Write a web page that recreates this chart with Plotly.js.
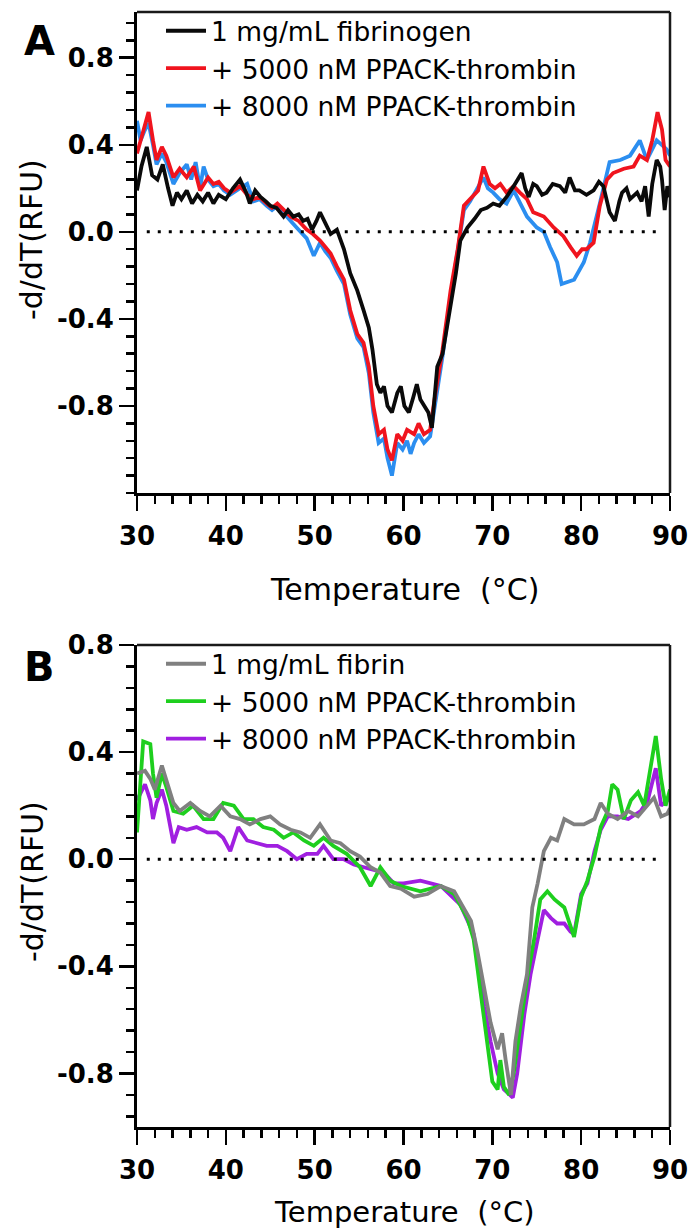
<!DOCTYPE html>
<html>
<head>
<meta charset="utf-8">
<script src="https://cdn.plot.ly/plotly-3.0.1.min.js"></script>
<style>html,body{margin:0;padding:0;background:#fff;}#chart{width:692px;height:1232px;}</style>
</head>
<body>
<div id="chart"></div>
<script>
// ---------- Panel A: fibrinogen ----------
const tempA_fib = [30.0,30.5,31.1,31.7,32.3,32.9,33.5,34.0,34.5,35.0,35.6,36.2,36.8,37.4,38.0,38.6,39.2,40.0,40.8,41.6,42.3,42.7,43.3,43.9,44.5,45.0,45.7,46.5,47.0,47.6,48.2,48.7,49.2,49.7,50.2,50.6,51.2,51.8,52.5,53.3,54.0,54.8,55.5,56.1,56.5,57.0,57.4,57.8,58.2,58.7,59.3,59.7,60.1,60.6,61.1,61.5,61.9,62.3,62.8,63.2,63.5,63.8,64.4,64.9,65.3,65.9,66.4,67.2,68.0,68.7,69.4,70.1,70.8,71.6,72.4,73.3,73.7,74.1,74.6,75.0,75.6,76.1,76.8,77.6,78.2,78.7,79.3,79.8,80.6,81.4,82.0,82.5,83.2,83.8,84.3,84.6,85.1,85.5,86.3,86.8,87.2,87.6,88.0,88.5,88.9,89.1,89.4,89.7,90.0];
const valA_fib = [0.19,0.30,0.39,0.26,0.24,0.31,0.20,0.12,0.18,0.15,0.19,0.13,0.17,0.14,0.18,0.13,0.17,0.15,0.20,0.24,0.18,0.13,0.19,0.16,0.14,0.12,0.11,0.07,0.10,0.07,0.08,0.05,0.06,0.01,0.05,0.09,0.04,-0.01,0.01,-0.08,-0.19,-0.27,-0.36,-0.44,-0.54,-0.70,-0.74,-0.71,-0.80,-0.83,-0.74,-0.71,-0.80,-0.83,-0.76,-0.70,-0.77,-0.80,-0.83,-0.90,-0.77,-0.62,-0.56,-0.44,-0.34,-0.19,-0.04,0.02,0.06,0.10,0.11,0.13,0.12,0.16,0.21,0.27,0.20,0.16,0.22,0.21,0.17,0.18,0.22,0.21,0.18,0.25,0.19,0.19,0.17,0.19,0.23,0.21,0.09,0.05,0.14,0.18,0.20,0.15,0.18,0.14,0.21,0.07,0.22,0.33,0.30,0.24,0.10,0.21,0.16];

const tempA_5000 = [30.0,30.6,31.3,31.8,32.2,32.8,33.3,34.1,34.8,35.6,36.4,37.1,38.0,38.6,39.2,39.8,40.5,41.6,42.4,43.1,43.8,44.6,45.2,45.8,46.5,47.3,48.2,49.1,49.8,50.6,51.2,51.8,52.5,53.3,54.0,54.8,55.5,56.1,56.6,57.2,57.8,58.2,58.7,59.3,59.9,60.4,61.2,61.7,62.3,63.0,63.6,64.4,65.3,66.1,66.8,67.5,68.4,69.0,69.7,70.3,70.9,71.6,72.4,73.1,73.9,74.6,75.8,76.9,78.0,78.8,79.5,80.1,80.6,81.4,82.1,82.9,83.6,84.8,85.9,86.6,87.4,88.0,88.6,89.1,89.5,90.0];
const valA_5000 = [0.36,0.45,0.55,0.42,0.33,0.39,0.35,0.25,0.29,0.25,0.30,0.19,0.25,0.22,0.23,0.20,0.18,0.21,0.17,0.15,0.16,0.13,0.11,0.13,0.10,0.07,0.05,0.01,-0.01,-0.04,-0.07,-0.10,-0.16,-0.22,-0.36,-0.47,-0.51,-0.62,-0.80,-0.93,-0.91,-1.00,-1.05,-0.93,-0.96,-0.91,-0.93,-0.88,-0.93,-0.91,-0.74,-0.54,-0.27,-0.08,0.12,0.15,0.19,0.30,0.22,0.20,0.22,0.18,0.21,0.18,0.15,0.09,0.07,0.02,-0.02,-0.07,-0.11,-0.08,-0.08,-0.05,0.12,0.24,0.27,0.29,0.30,0.35,0.33,0.42,0.55,0.47,0.33,0.30];

const tempA_8000 = [30.0,30.4,30.8,31.3,31.8,32.2,32.8,33.3,34.1,34.8,35.6,36.1,36.6,37.1,37.5,38.0,38.6,39.2,39.8,40.5,41.6,42.4,43.1,43.8,44.6,45.2,45.8,46.5,47.3,48.4,49.1,49.9,50.6,51.2,51.8,52.5,53.3,54.0,54.8,55.5,56.1,56.6,57.2,57.8,58.2,58.7,59.3,59.9,60.4,60.8,61.2,61.7,62.3,63.0,63.6,64.4,65.3,66.1,66.8,67.5,68.4,69.0,69.5,70.1,70.8,71.6,72.4,73.1,73.9,75.0,75.8,76.5,77.3,77.8,78.5,79.2,80.3,81.0,82.1,83.2,84.4,85.5,86.6,87.4,88.5,89.6,90.0];
const valA_8000 = [0.51,0.42,0.46,0.50,0.40,0.31,0.36,0.32,0.22,0.27,0.31,0.24,0.32,0.20,0.30,0.24,0.21,0.22,0.19,0.17,0.20,0.22,0.14,0.15,0.12,0.10,0.12,0.09,0.05,0.00,-0.03,-0.11,-0.05,-0.09,-0.12,-0.18,-0.24,-0.38,-0.49,-0.53,-0.65,-0.83,-0.97,-0.95,-1.04,-1.12,-0.97,-1.00,-0.96,-1.02,-0.97,-0.93,-0.97,-0.94,-0.78,-0.57,-0.30,-0.09,0.10,0.14,0.21,0.25,0.20,0.18,0.15,0.13,0.19,0.13,0.07,0.02,0.00,-0.07,-0.14,-0.24,-0.23,-0.22,-0.14,-0.05,0.13,0.32,0.33,0.35,0.42,0.33,0.42,0.38,0.35];

// ---------- Panel B: fibrin ----------
const tempB_fib = [30.0,30.9,31.5,32.0,32.8,33.3,34.1,34.8,36.0,37.1,38.2,39.4,40.5,41.6,42.7,43.9,45.0,46.1,47.3,48.4,49.5,50.6,51.8,52.9,54.0,55.1,56.3,57.4,58.5,59.7,61.2,62.7,64.2,65.7,66.8,67.6,68.3,69.1,69.8,70.6,71.1,71.5,72.1,72.6,73.2,73.9,74.5,75.1,75.8,76.6,77.3,78.1,79.2,80.3,81.5,82.2,83.0,84.1,85.3,86.4,87.5,88.2,89.0,89.7,90.0];
const valB_fib = [0.32,0.33,0.30,0.26,0.35,0.30,0.21,0.18,0.21,0.18,0.16,0.20,0.16,0.15,0.13,0.15,0.16,0.13,0.11,0.10,0.08,0.13,0.07,0.06,0.03,0.01,-0.03,-0.05,-0.10,-0.11,-0.14,-0.13,-0.10,-0.12,-0.18,-0.23,-0.34,-0.48,-0.61,-0.71,-0.65,-0.75,-0.88,-0.68,-0.55,-0.43,-0.18,-0.09,0.03,0.08,0.07,0.15,0.13,0.13,0.15,0.21,0.17,0.15,0.18,0.16,0.20,0.23,0.16,0.17,0.19];

const tempB_5000 = [30.0,30.4,30.7,31.5,31.8,32.2,32.8,33.3,34.1,35.2,36.3,37.5,38.6,39.7,40.9,42.0,43.1,44.2,45.4,46.5,47.6,48.8,49.9,51.0,52.1,53.6,55.1,56.3,57.4,58.5,59.7,61.9,64.2,65.7,67.2,67.9,68.7,69.4,70.0,70.6,70.9,71.3,71.9,72.4,73.2,73.9,74.7,75.4,76.2,77.0,78.1,78.8,79.2,80.0,80.7,81.5,82.2,83.0,83.5,84.1,84.8,85.6,86.4,87.1,87.9,88.4,89.0,89.5,90.0];
const valB_5000 = [0.10,0.32,0.44,0.43,0.32,0.23,0.32,0.27,0.18,0.17,0.20,0.15,0.15,0.21,0.20,0.15,0.15,0.12,0.11,0.08,0.10,0.07,0.05,0.08,0.05,0.02,-0.03,-0.10,-0.03,-0.08,-0.10,-0.12,-0.10,-0.13,-0.22,-0.30,-0.50,-0.68,-0.83,-0.86,-0.75,-0.85,-0.88,-0.80,-0.61,-0.45,-0.30,-0.15,-0.12,-0.15,-0.18,-0.25,-0.29,-0.14,-0.08,0.01,0.12,0.18,0.28,0.26,0.15,0.22,0.25,0.20,0.37,0.46,0.30,0.20,0.26];

const tempB_8000 = [30.0,30.9,31.5,31.8,32.2,32.8,33.3,34.1,34.7,35.6,36.7,37.9,39.0,39.7,40.5,41.4,42.4,43.5,44.6,45.8,46.9,48.0,49.1,50.3,51.0,52.1,53.3,54.4,55.5,56.7,57.8,58.9,60.0,61.9,64.2,66.4,67.9,69.1,69.8,70.6,71.3,72.3,72.8,73.6,74.3,75.1,75.8,76.6,77.3,78.1,78.8,79.2,80.0,80.7,81.5,82.2,83.0,84.1,85.3,86.7,87.5,88.4,89.0,89.7,90.0];
const valB_8000 = [0.22,0.28,0.22,0.15,0.21,0.26,0.20,0.06,0.12,0.11,0.12,0.10,0.10,0.08,0.03,0.12,0.07,0.06,0.05,0.05,0.03,0.00,0.02,0.02,0.05,0.00,0.00,-0.02,-0.03,-0.04,-0.05,-0.09,-0.09,-0.08,-0.10,-0.17,-0.28,-0.55,-0.68,-0.80,-0.86,-0.89,-0.80,-0.58,-0.43,-0.30,-0.19,-0.22,-0.24,-0.24,-0.27,-0.28,-0.13,-0.09,0.03,0.11,0.16,0.16,0.15,0.18,0.22,0.34,0.20,0.22,0.24];

// ---------- labels / ticks ----------
const namesA = ['1 mg/mL fibrinogen', '+ 5000 nM PPACK-thrombin', '+ 8000 nM PPACK-thrombin'];
const namesB = ['1 mg/mL fibrin', '+ 5000 nM PPACK-thrombin', '+ 8000 nM PPACK-thrombin'];
const yTickVals = [-0.8, -0.4, 0, 0.4, 0.8];
const yTickText = ['-0.8', '-0.4', '0.0', '0.4', '0.8'];
const xTitle = 'Temperature\u00a0 (°C)';
const yTitle = '-d/dT(RFU)';
const panelLabels = ['A', 'B'];

const colorsA = ['#0a0a0a', '#f0141e', '#2b8ef0'];
const colorsB = ['#808080', '#1ecf1e', '#a01fe0'];

const W = 692, H = 1232;
const FONT = 'DejaVu Sans, Liberation Sans, Arial, sans-serif';
const LW = 3.8;

function tr(x, y, name, color, xa, ya, leg) {
  return {x: x, y: y, name: name, type: 'scatter', mode: 'lines',
    line: {color: color, width: LW}, xaxis: xa, yaxis: ya, legend: leg, hoverinfo: 'skip'};
}

// drawn bottom-to-top: 8000, 5000, control (legend reversed)
const data = [
  tr(tempA_8000, valA_8000, namesA[2], colorsA[2], 'x', 'y', 'legend'),
  tr(tempA_5000, valA_5000, namesA[1], colorsA[1], 'x', 'y', 'legend'),
  tr(tempA_fib, valA_fib, namesA[0], colorsA[0], 'x', 'y', 'legend'),
  tr(tempB_8000, valB_8000, namesB[2], colorsB[2], 'x2', 'y2', 'legend2'),
  tr(tempB_5000, valB_5000, namesB[1], colorsB[1], 'x2', 'y2', 'legend2'),
  tr(tempB_fib, valB_fib, namesB[0], colorsB[0], 'x2', 'y2', 'legend2')
];

const XDOM = [137 / W, 670 / W];
function xAxis(anchor) {
  return {domain: XDOM, range: [30, 90], anchor: anchor,
    tickmode: 'linear', tick0: 30, dtick: 10,
    ticks: 'outside', ticklen: 15, tickwidth: 2.5, tickcolor: '#000',
    showline: true, linewidth: 3, linecolor: '#000', showgrid: false, zeroline: false,
    tickfont: {family: FONT, size: 26, weight: 'bold', color: '#000'},
    ticklabelstandoff: 3,
    minor: {dtick: 2, ticks: 'outside', ticklen: 8, tickwidth: 2.5, tickcolor: '#000', showgrid: false},
    fixedrange: true};
}
function yAxis(anchor, dom, rng) {
  return {domain: dom, range: rng, anchor: anchor,
    tickmode: 'array', tickvals: yTickVals, ticktext: yTickText,
    ticks: 'outside', ticklen: 15, tickwidth: 2.5, tickcolor: '#000',
    showline: true, linewidth: 3, linecolor: '#000', showgrid: false, zeroline: false,
    tickfont: {family: FONT, size: 26, weight: 'bold', color: '#000'},
    minor: {tickmode: 'linear', tick0: 0, dtick: 0.08, ticks: 'outside', ticklen: 8, tickwidth: 2.5, tickcolor: '#000', showgrid: false},
    fixedrange: true};
}

function frame(xa, ya) {
  return [
    {type: 'line', xref: xa + ' domain', yref: ya + ' domain', x0: 0, x1: 1, y0: 1, y1: 1, line: {color: '#1a1a1a', width: 2.5}},
    {type: 'line', xref: xa + ' domain', yref: ya + ' domain', x0: 1, x1: 1, y0: 0, y1: 1, line: {color: '#1a1a1a', width: 2.5}},
    {type: 'line', xref: xa, yref: ya, x0: 31.1, x1: 89.1, y0: 0, y1: 0, line: {color: '#000', width: 3, dash: '3px,8px'}}
  ];
}

function ann(text, xpx, ypx, size, extra) {
  return Object.assign({text: text, xref: 'paper', yref: 'paper', x: xpx / W, y: 1 - ypx / H,
    xanchor: 'center', yanchor: 'middle', showarrow: false,
    font: {family: FONT, size: size, color: '#000'}}, extra || {});
}

function legendAt(leftPx, topPx) {
  return {x: leftPx / W, xanchor: 'left', y: 1 - topPx / H, yanchor: 'top',
    bgcolor: 'rgba(0,0,0,0)', borderwidth: 0, itemwidth: 40,
    font: {family: FONT, size: 26.5, color: '#000'}, traceorder: 'reversed'};
}

const layout = {
  width: W, height: H,
  margin: {l: 0, r: 0, t: 0, b: 0},
  paper_bgcolor: '#fff', plot_bgcolor: '#fff',
  font: {family: FONT, color: '#000'},
  showlegend: true,
  xaxis: xAxis('y'),
  yaxis: yAxis('x', [1 - 493 / H, 1 - 12 / H], [-1.2, 1.01]),
  xaxis2: xAxis('y2'),
  yaxis2: yAxis('x2', [1 - 1127 / H, 1 - 645 / H], [-1.0, 0.8]),
  legend: legendAt(161, 7),
  legend2: legendAt(161, 640),
  shapes: frame('x', 'y').concat(frame('x2', 'y2')),
  annotations: [
    ann('<b>' + panelLabels[0] + '</b>', 39, 41, 40),
    ann('<b>' + panelLabels[1] + '</b>', 39, 667, 40),
    ann(yTitle, 32, 240, 30, {textangle: -90}),
    ann(yTitle, 32, 882, 30, {textangle: -90}),
    ann(xTitle, 404, 589, 30),
    ann(xTitle, 404, 1212, 29)
  ]
};

Plotly.newPlot('chart', data, layout, {staticPlot: true, displayModeBar: false});
</script>
</body>
</html>
